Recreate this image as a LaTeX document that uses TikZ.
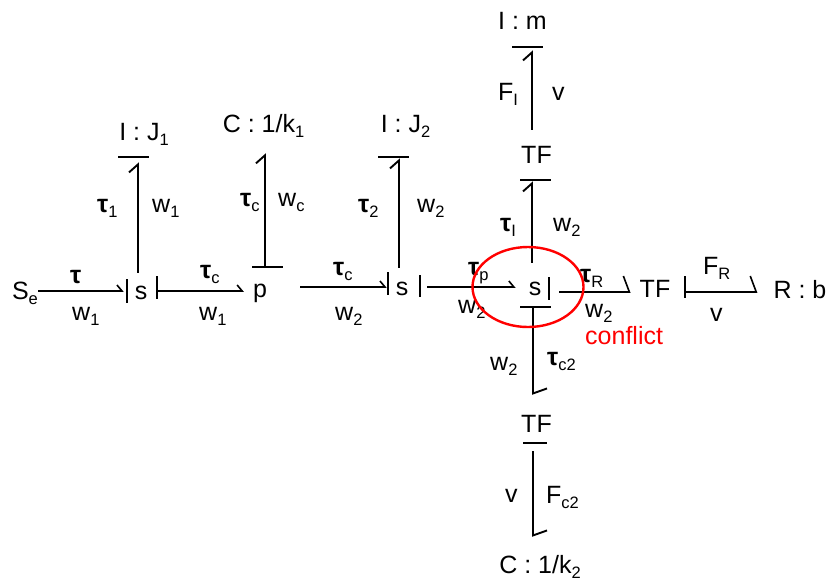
\documentclass[tikz,border=0pt]{standalone}
\usepackage{fontspec}
\setmainfont{Liberation Sans}
\usetikzlibrary{arrows.meta,shapes.geometric}
\newcommand{\low}[1]{\raisebox{-0.2em}{\fontsize{16.5}{16.5}\selectfont #1}}
\newcommand{\tauof}[1]{\textbf{τ}\low{#1}}
\tikzset{
  elem/.style={inner sep=0pt,text height=20pt,text depth=4pt},
  lbl/.style={anchor=base west,inner sep=0pt},
  vstroke/.style={fill=black,inner sep=0pt,minimum width=2.2pt},
  hstroke/.style={fill=black,inner sep=0pt,minimum height=2.2pt},
  bond/.style={line width=1.9pt,black},
  tipflat/.style={-{Straight Barb[left,length=5pt,width=12pt,line width=1.6pt]}},
  tipup/.style={-{Straight Barb[left,length=8pt,width=18pt,line width=1.9pt]}},
  tipsteep/.style={-{Straight Barb[left,length=6pt,width=32pt,line width=1.6pt]}},
  tipdown/.style={-{Straight Barb[left,length=5pt,width=28pt,line width=1.9pt]}}
}

\begin{document}
\begin{tikzpicture}[x=1pt,y=-1pt,every node/.style={font=\fontsize{25}{30}\selectfont}]
\useasboundingbox (0,0) rectangle (833,582);

\node (se) [elem] at (25,291) {S\low{e}};
\node (s1) [elem,minimum height=36pt] at (141,291) {s};
\node (p) [elem] at (260,289) {p};
\node (s2) [elem,minimum height=38pt] at (402,287) {s};
\node (s3) [elem,minimum height=48pt] at (535,287) {s};
\node (tfr) [elem] at (655,289) {TF};
\node (rb) [elem] at (800,290) {R : b};
\node (j1) [elem] at (144,132) {I : J\low{1}};
\node (c1) [elem] at (263.5,124) {C : 1/k\low{1}};
\node (j2) [elem] at (405.5,124) {I : J\low{2}};
\node (tfu) [elem] at (536.5,155) {TF};
\node (im) [elem] at (522.5,21) {I : m};
\node (tfd) [elem] at (536.5,424) {TF};
\node (c2) [elem] at (540,565) {C : 1/k\low{2}};

\node (s1l) [vstroke,minimum height=24pt] at (127,291) {};
\node (s1r) [vstroke,minimum height=23pt] at (157,287.5) {};
\node (s2l) [vstroke,minimum height=23pt] at (388,283.5) {};
\node (s2r) [vstroke,minimum height=22pt] at (420,286) {};
\node (s3r) [vstroke,minimum height=23pt] at (549,288.5) {};
\node (tfrb) [vstroke,minimum height=22pt] at (685,287) {};
\node (j1b) [hstroke,minimum width=31pt] at (133.5,157) {};
\node (pb) [hstroke,minimum width=31pt] at (267.5,267) {};
\node (j2b) [hstroke,minimum width=31pt] at (393.5,157) {};
\node (tfub) [hstroke,minimum width=31pt] at (535.5,180) {};
\node (imb) [hstroke,minimum width=31pt] at (527.5,47) {};
\node (s3b) [hstroke,minimum width=31pt] at (535.5,307) {};
\node (tfdb) [hstroke,minimum width=24pt] at (535,443) {};

\draw[bond,tipflat,shorten >=2pt] (se.east) -- (s1l.west);
\draw[bond,tipflat,shorten >=9pt] ([yshift=-3.5pt]s1r.east) -- ([yshift=-2pt]p.west);
\draw[bond,tipflat,shorten <=33pt] ([yshift=2pt]p.east) -- ([yshift=-3.5pt]s2l.west);
\draw[bond,tipflat,shorten <=6pt,shorten >=13pt] ([yshift=-1pt]s2r.east) -- (s3.west);
\draw[bond,tipsteep,shorten <=9pt,shorten >=9pt] ([yshift=-3.5pt]s3r.east) -- ([yshift=-3pt]tfr.west);
\draw[bond,tipsteep,shorten >=16pt] ([yshift=-5pt]tfrb.east) -- ([yshift=-2pt]rb.west);
\draw[bond,tipup,shorten >=4pt] ([xshift=-3pt]s1.north) -- ([xshift=4.5pt]j1b.south);
\draw[bond,tipup,shorten >=17pt] ([xshift=-2.5pt]pb.north) -- ([xshift=1.5pt]c1.south);
\draw[bond,tipup] ([xshift=-3pt]s2.north) -- ([xshift=5.5pt]j2b.south);
\draw[bond,tipup] ([xshift=-3pt]s3.north) -- ([xshift=-3.5pt]tfub.south);
\draw[bond,tipup,shorten <=13pt,shorten >=2pt] ([xshift=-4.5pt]tfu.north) -- ([xshift=4.5pt]imb.south);
\draw[bond,tipdown,shorten >=17pt] ([xshift=-2.5pt]s3b.south) -- ([xshift=-3.5pt]tfd.north);
\draw[bond,tipdown,shorten <=7pt,shorten >=16pt] ([xshift=-2pt]tfdb.south) -- ([xshift=-7pt]c2.north);

\node (t0) [lbl] at (70,283) {\textbf{τ}};
\node (w0) [lbl] at (72,320) {w\low{1}};
\node (t1) [lbl] at (97,212) {\tauof{1}};
\node (w1) [lbl] at (152,212) {w\low{1}};
\node (tc) [lbl] at (200,278) {\tauof{c}};
\node (wb) [lbl] at (199,320) {w\low{1}};
\node (tcv) [lbl] at (240,206) {\tauof{c}};
\node (wc) [lbl] at (278,206) {w\low{c}};
\node (tcb) [lbl] at (333,275) {\tauof{c}};
\node (w2a) [lbl] at (335,320) {w\low{2}};
\node (t2) [lbl] at (358,212) {\tauof{2}};
\node (w2b) [lbl] at (417,212) {w\low{2}};
\node (tp) [lbl] at (468,275) {\tauof{p}};
\node (w2c) [lbl] at (458,313) {w\low{2}};
\node (tl) [lbl] at (500,231) {\tauof{I}};
\node (w2d) [lbl] at (553,231) {w\low{2}};
\node (tr) [lbl] at (580,282) {\tauof{R}};
\node (w2e) [lbl] at (585,317) {w\low{2}};
\node (w2f) [lbl] at (490,370) {w\low{2}};
\node (tc2) [lbl] at (547,365) {\tauof{c2}};
\node (fl) [lbl] at (498,100) {F\low{I}};
\node (vu) [lbl] at (552,100) {v};
\node (fr) [lbl] at (703,274) {F\low{R}};
\node (vr) [lbl] at (710,321) {v};
\node (vd) [lbl] at (505,502) {v};
\node (fc) [lbl] at (546,503) {F\low{c2}};

\node (ring) [ellipse,draw=red,line width=2.4pt,inner sep=0pt,minimum width=111pt,minimum height=80pt] at (528,287) {};
\node (conf) [lbl,text=red] at (585,344) {conflict};
\end{tikzpicture}
\end{document}
